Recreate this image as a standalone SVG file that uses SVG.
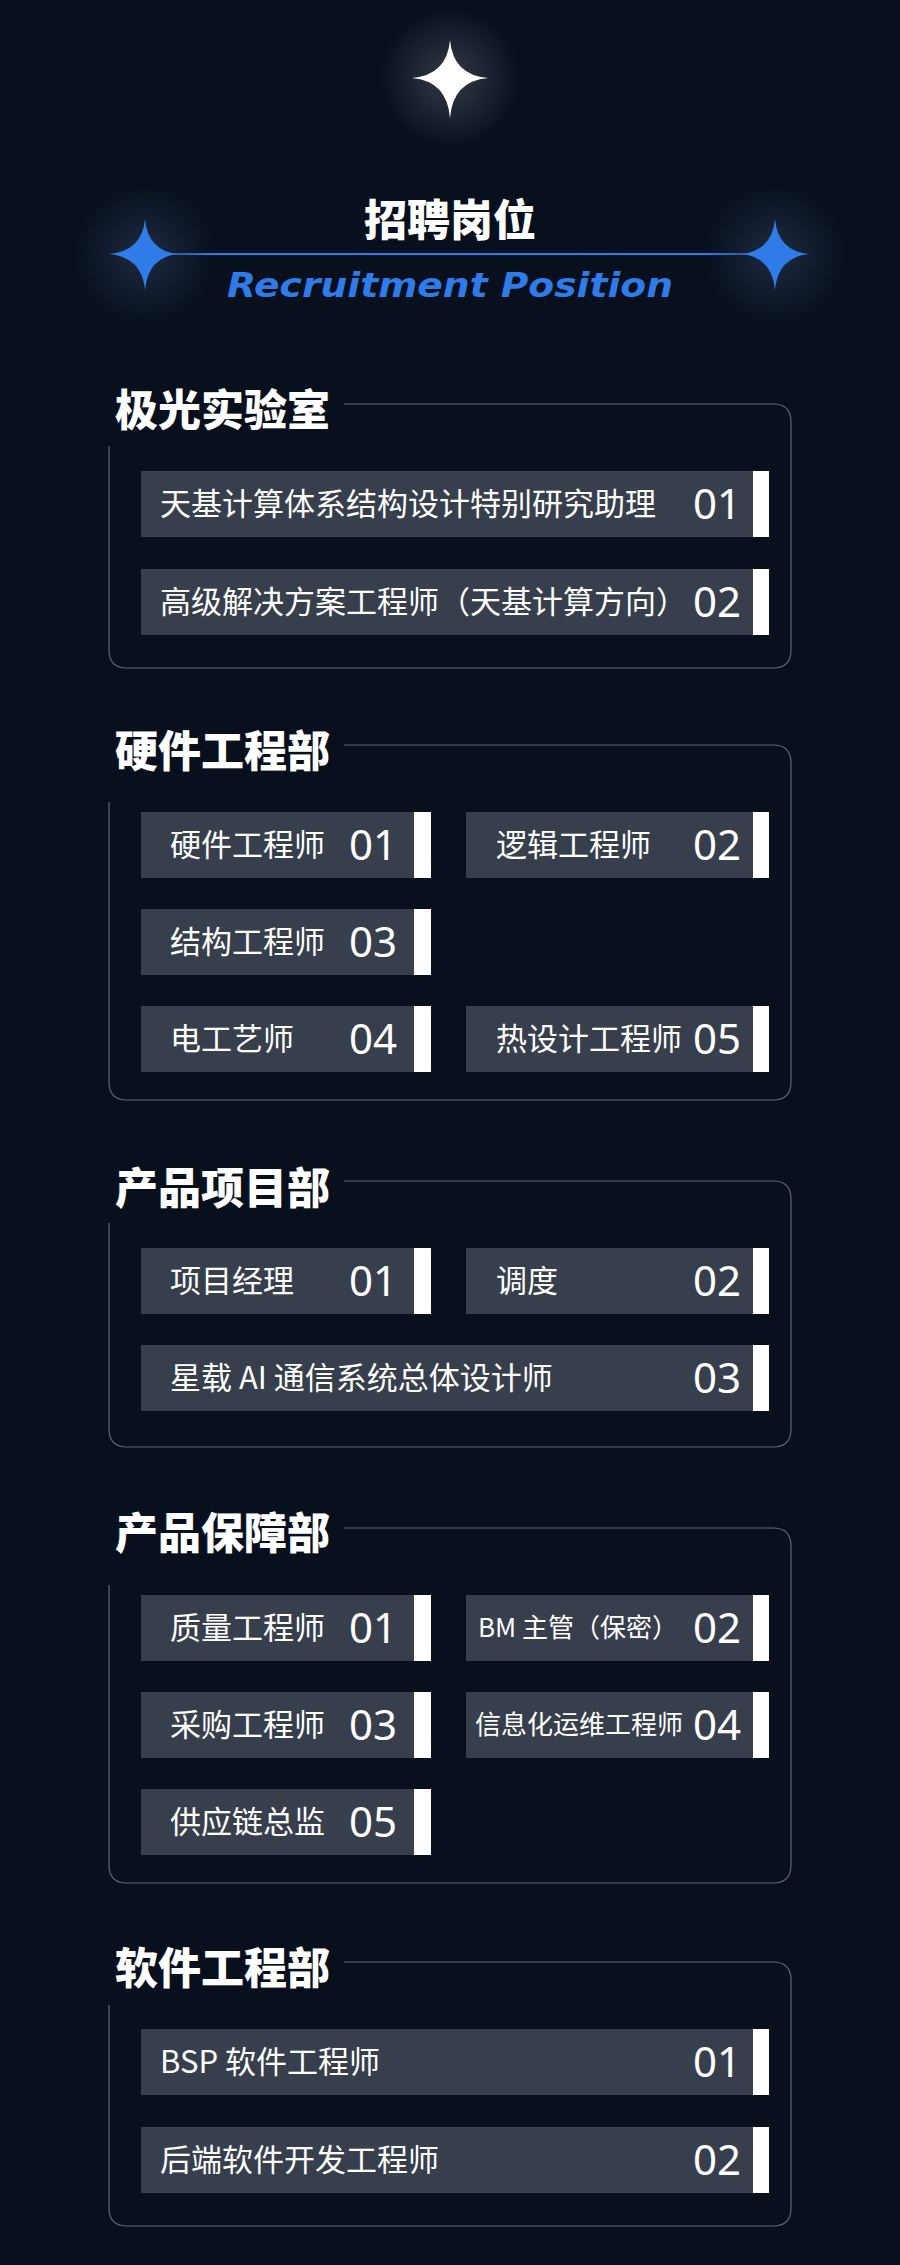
<svg xmlns="http://www.w3.org/2000/svg" width="900" height="2265" viewBox="0 0 900 2265">
<defs>
<radialGradient id="gw" cx="0.5" cy="0.5" r="0.5"><stop offset="0" stop-color="#ffffff" stop-opacity="0.18"/><stop offset="1" stop-color="#ffffff" stop-opacity="0"/></radialGradient>
<radialGradient id="gb" cx="0.5" cy="0.5" r="0.5"><stop offset="0" stop-color="#8fb4ff" stop-opacity="0.16"/><stop offset="1" stop-color="#8fb4ff" stop-opacity="0"/></radialGradient>
<linearGradient id="ln" x1="0" x2="1"><stop offset="0" stop-color="#2f7be8" stop-opacity="0"/><stop offset="0.15" stop-color="#2f7be8"/><stop offset="0.85" stop-color="#2f7be8"/><stop offset="1" stop-color="#2f7be8" stop-opacity="0"/></linearGradient>
</defs>
<style>
.cell{fill:#373f4c}
.bar{fill:#ffffff}
.t{font-family:"Noto Sans CJK SC","Noto Sans",sans-serif;fill:#ffffff;font-size:31px}
.s{font-size:26px}
.n{font-family:"Noto Sans","Noto Sans CJK SC",sans-serif;fill:#ffffff;font-size:42px;font-weight:400;text-anchor:end}
.h{font-family:"Noto Sans CJK SC",sans-serif;fill:#ffffff;font-size:43px;font-weight:900}
.box{fill:none;stroke:#5a6678;stroke-width:1.2}
</style>
<rect width="900" height="2265" fill="#08101e"/>
<g id="header">
<circle cx="450" cy="78" r="70" fill="url(#gw)"/>
<path d="M450 40 Q453 75 488 78 Q453 81 450 118 Q447 81 412 78 Q447 75 450 40Z" fill="#ffffff"/>
<text x="450" y="236" text-anchor="middle" class="h" font-size="40">招聘岗位</text>
<rect x="109" y="253" width="700" height="2" fill="url(#ln)"/>
<circle cx="145" cy="254" r="70" fill="url(#gb)"/>
<circle cx="775" cy="254" r="70" fill="url(#gb)"/>
<path d="M145 219 Q148 251 178 254 Q148 257 145 290 Q142 257 109 254 Q142 251 145 219Z" fill="#2f7be8"/>
<path d="M775 219 Q778 251 809 254 Q778 257 775 290 Q772 257 741 254 Q772 251 775 219Z" fill="#2f7be8"/>
<text x="450" y="297" text-anchor="middle" font-family="'DejaVu Sans',sans-serif" font-weight="bold" font-style="italic" font-size="34" fill="#2f7be8" textLength="446" lengthAdjust="spacingAndGlyphs">Recruitment Position</text>
</g>
<g id="connectors"></g>
<g id="sec1">
<text x="115" y="426" class="h">极光实验室</text>
<path class="box" d="M344 404 H773 Q791 404 791 422 V650 Q791 668 773 668 H127 Q109 668 109 650 V446"/>
<rect class="cell" x="141" y="471" width="612" height="66"/><rect class="bar" x="753" y="471" width="16" height="66"/>
<text x="160" y="515" class="t">天基计算体系结构设计特别研究助理</text><text x="741" y="519" class="n">01</text>
<rect class="cell" x="141" y="569" width="612" height="66"/><rect class="bar" x="753" y="569" width="16" height="66"/>
<text x="160" y="613" class="t">高级解决方案工程师（天基计算方向）</text><text x="741" y="617" class="n">02</text>
</g>
<g id="sec2">
<text x="115" y="767" class="h">硬件工程部</text>
<path class="box" d="M344 745 H773 Q791 745 791 763 V1082 Q791 1100 773 1100 H127 Q109 1100 109 1082 V802"/>
<rect class="cell" x="141" y="812" width="273" height="66"/><rect class="bar" x="414" y="812" width="17" height="66"/>
<text x="170" y="856" class="t">硬件工程师</text><text x="397" y="860" class="n">01</text>
<rect class="cell" x="466" y="812" width="287" height="66"/><rect class="bar" x="753" y="812" width="16" height="66"/>
<text x="496" y="856" class="t">逻辑工程师</text><text x="741" y="860" class="n">02</text>
<rect class="cell" x="141" y="909" width="273" height="66"/><rect class="bar" x="414" y="909" width="17" height="66"/>
<text x="170" y="953" class="t">结构工程师</text><text x="397" y="957" class="n">03</text>
<rect class="cell" x="141" y="1006" width="273" height="66"/><rect class="bar" x="414" y="1006" width="17" height="66"/>
<text x="170" y="1050" class="t">电工艺师</text><text x="397" y="1054" class="n">04</text>
<rect class="cell" x="466" y="1006" width="287" height="66"/><rect class="bar" x="753" y="1006" width="16" height="66"/>
<text x="496" y="1050" class="t">热设计工程师</text><text x="741" y="1054" class="n">05</text>
</g>
<g id="sec3">
<text x="115" y="1204" class="h">产品项目部</text>
<path class="box" d="M344 1181 H773 Q791 1181 791 1199 V1429 Q791 1447 773 1447 H127 Q109 1447 109 1429 V1223"/>
<rect class="cell" x="141" y="1248" width="273" height="66"/><rect class="bar" x="414" y="1248" width="17" height="66"/>
<text x="170" y="1292" class="t">项目经理</text><text x="397" y="1296" class="n">01</text>
<rect class="cell" x="466" y="1248" width="287" height="66"/><rect class="bar" x="753" y="1248" width="16" height="66"/>
<text x="496" y="1292" class="t">调度</text><text x="741" y="1296" class="n">02</text>
<rect class="cell" x="141" y="1345" width="612" height="66"/><rect class="bar" x="753" y="1345" width="16" height="66"/>
<text x="170" y="1389" class="t">星载 AI 通信系统总体设计师</text><text x="741" y="1393" class="n">03</text>
</g>
<g id="sec4">
<text x="115" y="1549" class="h">产品保障部</text>
<path class="box" d="M344 1528 H773 Q791 1528 791 1546 V1865 Q791 1883 773 1883 H127 Q109 1883 109 1865 V1585"/>
<rect class="cell" x="141" y="1595" width="273" height="66"/><rect class="bar" x="414" y="1595" width="17" height="66"/>
<text x="170" y="1639" class="t">质量工程师</text><text x="397" y="1643" class="n">01</text>
<rect class="cell" x="466" y="1595" width="287" height="66"/><rect class="bar" x="753" y="1595" width="16" height="66"/>
<text x="478" y="1637" class="t s">BM 主管（保密）</text><text x="741" y="1643" class="n">02</text>
<rect class="cell" x="141" y="1692" width="273" height="66"/><rect class="bar" x="414" y="1692" width="17" height="66"/>
<text x="170" y="1736" class="t">采购工程师</text><text x="397" y="1740" class="n">03</text>
<rect class="cell" x="466" y="1692" width="287" height="66"/><rect class="bar" x="753" y="1692" width="16" height="66"/>
<text x="475" y="1734" class="t s">信息化运维工程师</text><text x="741" y="1740" class="n">04</text>
<rect class="cell" x="141" y="1789" width="273" height="66"/><rect class="bar" x="414" y="1789" width="17" height="66"/>
<text x="170" y="1833" class="t">供应链总监</text><text x="397" y="1837" class="n">05</text>
</g>
<g id="sec5">
<text x="115" y="1984" class="h">软件工程部</text>
<path class="box" d="M344 1962 H773 Q791 1962 791 1980 V2208 Q791 2226 773 2226 H127 Q109 2226 109 2208 V2005"/>
<rect class="cell" x="141" y="2029" width="612" height="66"/><rect class="bar" x="753" y="2029" width="16" height="66"/>
<text x="160" y="2073" class="t">BSP 软件工程师</text><text x="741" y="2077" class="n">01</text>
<rect class="cell" x="141" y="2127" width="612" height="66"/><rect class="bar" x="753" y="2127" width="16" height="66"/>
<text x="160" y="2171" class="t">后端软件开发工程师</text><text x="741" y="2175" class="n">02</text>
</g>
</svg>
